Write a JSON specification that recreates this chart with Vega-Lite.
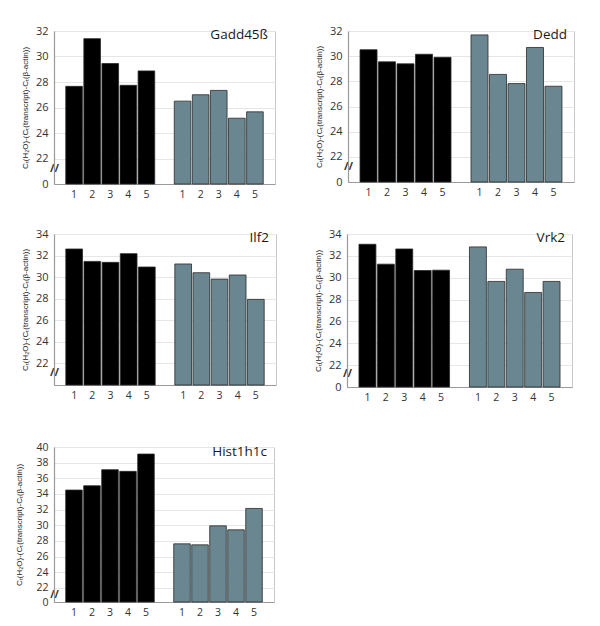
{
  "$schema": "https://vega.github.io/schema/vega-lite/v6.json",
  "padding": {"left": 15, "top": 24, "right": 5, "bottom": 5},
  "background": "white",
  "data": {"values": [
    {"gene": "Gadd45ß", "pos": "A1", "group": "A", "value": 27.66},
    {"gene": "Gadd45ß", "pos": "A2", "group": "A", "value": 31.4},
    {"gene": "Gadd45ß", "pos": "A3", "group": "A", "value": 29.45},
    {"gene": "Gadd45ß", "pos": "A4", "group": "A", "value": 27.74},
    {"gene": "Gadd45ß", "pos": "A5", "group": "A", "value": 28.87},
    {"gene": "Gadd45ß", "pos": "B1", "group": "B", "value": 26.5},
    {"gene": "Gadd45ß", "pos": "B2", "group": "B", "value": 27.0},
    {"gene": "Gadd45ß", "pos": "B3", "group": "B", "value": 27.34},
    {"gene": "Gadd45ß", "pos": "B4", "group": "B", "value": 25.16},
    {"gene": "Gadd45ß", "pos": "B5", "group": "B", "value": 25.66},
    {"gene": "Dedd", "pos": "A1", "group": "A", "value": 30.51},
    {"gene": "Dedd", "pos": "A2", "group": "A", "value": 29.55},
    {"gene": "Dedd", "pos": "A3", "group": "A", "value": 29.39},
    {"gene": "Dedd", "pos": "A4", "group": "A", "value": 30.15},
    {"gene": "Dedd", "pos": "A5", "group": "A", "value": 29.91},
    {"gene": "Dedd", "pos": "B1", "group": "B", "value": 31.69},
    {"gene": "Dedd", "pos": "B2", "group": "B", "value": 28.55},
    {"gene": "Dedd", "pos": "B3", "group": "B", "value": 27.82},
    {"gene": "Dedd", "pos": "B4", "group": "B", "value": 30.69},
    {"gene": "Dedd", "pos": "B5", "group": "B", "value": 27.61},
    {"gene": "Ilf2", "pos": "A1", "group": "A", "value": 32.61},
    {"gene": "Ilf2", "pos": "A2", "group": "A", "value": 31.46},
    {"gene": "Ilf2", "pos": "A3", "group": "A", "value": 31.37},
    {"gene": "Ilf2", "pos": "A4", "group": "A", "value": 32.18},
    {"gene": "Ilf2", "pos": "A5", "group": "A", "value": 30.94},
    {"gene": "Ilf2", "pos": "B1", "group": "B", "value": 31.22},
    {"gene": "Ilf2", "pos": "B2", "group": "B", "value": 30.41},
    {"gene": "Ilf2", "pos": "B3", "group": "B", "value": 29.82},
    {"gene": "Ilf2", "pos": "B4", "group": "B", "value": 30.2},
    {"gene": "Ilf2", "pos": "B5", "group": "B", "value": 27.94},
    {"gene": "Vrk2", "pos": "A1", "group": "A", "value": 33.06},
    {"gene": "Vrk2", "pos": "A2", "group": "A", "value": 31.24},
    {"gene": "Vrk2", "pos": "A3", "group": "A", "value": 32.63},
    {"gene": "Vrk2", "pos": "A4", "group": "A", "value": 30.66},
    {"gene": "Vrk2", "pos": "A5", "group": "A", "value": 30.69},
    {"gene": "Vrk2", "pos": "B1", "group": "B", "value": 32.82},
    {"gene": "Vrk2", "pos": "B2", "group": "B", "value": 29.66},
    {"gene": "Vrk2", "pos": "B3", "group": "B", "value": 30.78},
    {"gene": "Vrk2", "pos": "B4", "group": "B", "value": 28.65},
    {"gene": "Vrk2", "pos": "B5", "group": "B", "value": 29.66},
    {"gene": "Hist1h1c", "pos": "A1", "group": "A", "value": 34.5},
    {"gene": "Hist1h1c", "pos": "A2", "group": "A", "value": 35.05},
    {"gene": "Hist1h1c", "pos": "A3", "group": "A", "value": 37.1},
    {"gene": "Hist1h1c", "pos": "A4", "group": "A", "value": 36.89},
    {"gene": "Hist1h1c", "pos": "A5", "group": "A", "value": 39.1},
    {"gene": "Hist1h1c", "pos": "B1", "group": "B", "value": 27.63},
    {"gene": "Hist1h1c", "pos": "B2", "group": "B", "value": 27.5},
    {"gene": "Hist1h1c", "pos": "B3", "group": "B", "value": 29.93},
    {"gene": "Hist1h1c", "pos": "B4", "group": "B", "value": 29.42},
    {"gene": "Hist1h1c", "pos": "B5", "group": "B", "value": 32.15}
  ]},
  "spacing": 38,
  "vconcat": [
    {
      "spacing": 27,
      "vconcat": [
        {
          "spacing": 38,
          "hconcat": [
            {
              "width": 221, "height": 153,
              "transform": [{"filter": "datum.gene == 'Gadd45ß'"}],
              "title": {"text": "Gadd45ß"},
              "mark": {"type": "bar", "stroke": "#2a2a2a", "strokeWidth": 0.8},
              "encoding": {
                "x": {"field": "pos", "type": "nominal", "title": null, "scale": {"domain": ["A1","A2","A3","A4","A5","gap","B1","B2","B3","B4","B5"], "paddingInner": 0.08, "paddingOuter": 0.65}},
                "y": {"field": "value", "type": "quantitative", "title": "Cₜ(H₂O)-(Cₜ(transcript)-Cₜ(β-actin))", "scale": {"domain": [20, 32], "zero": false, "nice": false}, "axis": {"values": [20, 21.2, 22, 24, 26, 28, 30, 32], "labelExpr": "datum.value == 20 ? '0' : (datum.value == 21.2 ? '//' : datum.label)"}},
                "y2": {"datum": 20},
                "color": {"field": "group", "type": "nominal", "legend": null}
              }
            },
            {
              "width": 226, "height": 151,
              "transform": [{"filter": "datum.gene == 'Dedd'"}],
              "title": {"text": "Dedd"},
              "mark": {"type": "bar", "stroke": "#2a2a2a", "strokeWidth": 0.8},
              "encoding": {
                "x": {"field": "pos", "type": "nominal", "title": null, "scale": {"domain": ["A1","A2","A3","A4","A5","gap","B1","B2","B3","B4","B5"], "paddingInner": 0.08, "paddingOuter": 0.65}},
                "y": {"field": "value", "type": "quantitative", "title": "Cₜ(H₂O)-(Cₜ(transcript)-Cₜ(β-actin))", "scale": {"domain": [20, 32], "zero": false, "nice": false}, "axis": {"values": [20, 21.2, 22, 24, 26, 28, 30, 32], "labelExpr": "datum.value == 20 ? '0' : (datum.value == 21.2 ? '//' : datum.label)"}},
                "y2": {"datum": 20},
                "color": {"field": "group", "type": "nominal", "legend": null}
              }
            }
          ]
        },
        {
          "spacing": 36,
          "hconcat": [
            {
              "width": 222, "height": 151,
              "transform": [{"filter": "datum.gene == 'Ilf2'"}],
              "title": {"text": "Ilf2"},
              "mark": {"type": "bar", "stroke": "#2a2a2a", "strokeWidth": 0.8},
              "encoding": {
                "x": {"field": "pos", "type": "nominal", "title": null, "scale": {"domain": ["A1","A2","A3","A4","A5","gap","B1","B2","B3","B4","B5"], "paddingInner": 0.08, "paddingOuter": 0.65}},
                "y": {"field": "value", "type": "quantitative", "title": "Cₜ(H₂O)-(Cₜ(transcript)-Cₜ(β-actin))", "scale": {"domain": [20, 34], "zero": false, "nice": false}, "axis": {"values": [20, 21.2, 22, 24, 26, 28, 30, 32, 34], "labelExpr": "datum.value == 20 ? '' : (datum.value == 21.2 ? '//' : datum.label)"}},
                "y2": {"datum": 20},
                "color": {"field": "group", "type": "nominal", "legend": null}
              }
            },
            {
              "width": 225, "height": 153,
              "transform": [{"filter": "datum.gene == 'Vrk2'"}],
              "title": {"text": "Vrk2"},
              "mark": {"type": "bar", "stroke": "#2a2a2a", "strokeWidth": 0.8},
              "encoding": {
                "x": {"field": "pos", "type": "nominal", "title": null, "scale": {"domain": ["A1","A2","A3","A4","A5","gap","B1","B2","B3","B4","B5"], "paddingInner": 0.08, "paddingOuter": 0.65}},
                "y": {"field": "value", "type": "quantitative", "title": "Cₜ(H₂O)-(Cₜ(transcript)-Cₜ(β-actin))", "scale": {"domain": [20, 34], "zero": false, "nice": false}, "axis": {"values": [20, 21.2, 22, 24, 26, 28, 30, 32, 34], "labelExpr": "datum.value == 20 ? '0' : (datum.value == 21.2 ? '//' : datum.label)"}},
                "y2": {"datum": 20},
                "color": {"field": "group", "type": "nominal", "legend": null}
              }
            }
          ]
        }
      ]
    },
    {
      "hconcat": [
        {
          "width": 220, "height": 155,
          "transform": [{"filter": "datum.gene == 'Hist1h1c'"}],
          "title": {"text": "Hist1h1c"},
          "mark": {"type": "bar", "stroke": "#2a2a2a", "strokeWidth": 0.8},
          "encoding": {
            "x": {"field": "pos", "type": "nominal", "title": null, "scale": {"domain": ["A1","A2","A3","A4","A5","gap","B1","B2","B3","B4","B5"], "paddingInner": 0.08, "paddingOuter": 0.65}},
            "y": {"field": "value", "type": "quantitative", "title": "Cₜ(H₂O)-(Cₜ(transcript)-Cₜ(β-actin))", "scale": {"domain": [20.2, 40], "zero": false, "nice": false}, "axis": {"titlePadding": 12, "labelFontSize": 10.5, "values": [20.2, 21.2, 22, 24, 26, 28, 30, 32, 34, 36, 38, 40], "labelExpr": "datum.value == 20.2 ? '0' : (datum.value == 21.2 ? '//' : datum.label)"}},
            "y2": {"datum": 20.2},
            "color": {"field": "group", "type": "nominal", "legend": null}
          }
        }
      ]
    }
  ],
  "config": {
    "font": "Open Sans",
    "view": {"stroke": "#c9c9c9", "strokeWidth": 1},
    "range": {"category": ["#000000", "#6a8791"]},
    "title": {"anchor": "end", "orient": "top", "offset": -16, "baseline": "alphabetic", "dx": -7, "fontSize": 13.5, "fontWeight": "normal", "color": "#1a1a1a", "font": "Open Sans"},
    "axisX": {
      "labelExpr": "datum.value == 'gap' ? '' : substring(datum.value, 1)",
      "labelAngle": 0, "ticks": false, "labelPadding": 5, "labelFontSize": 10.5, "labelColor": "#333333",
      "domainColor": "#9a9a9a", "domainWidth": 1.2, "grid": false
    },
    "axisY": {
      "ticks": false, "tickSize": 0, "domainColor": "#9a9a9a", "domainWidth": 1.2,
      "labelOverlap": false, "labelBound": false,
      "labelFontSize": 11, "labelColor": "#333333",
      "labelPadding": {"condition": {"test": "datum.value == 21.2", "value": 0}, "value": 6},
      "labelAlign": {"condition": {"test": "datum.value == 21.2", "value": "center"}, "value": "right"},
      "labelFontWeight": {"condition": {"test": "datum.value == 21.2", "value": "bold"}, "value": "normal"},
      "gridColor": "#e6e6e6",
      "gridOpacity": {"condition": {"test": "datum.value == 21.2 || datum.value <= 20.2", "value": 0}, "value": 1},
      "titleFontSize": 8, "titleFontWeight": "normal", "titleColor": "#222222", "titlePadding": 6, "titleFont": "Liberation Sans"
    }
  }
}
